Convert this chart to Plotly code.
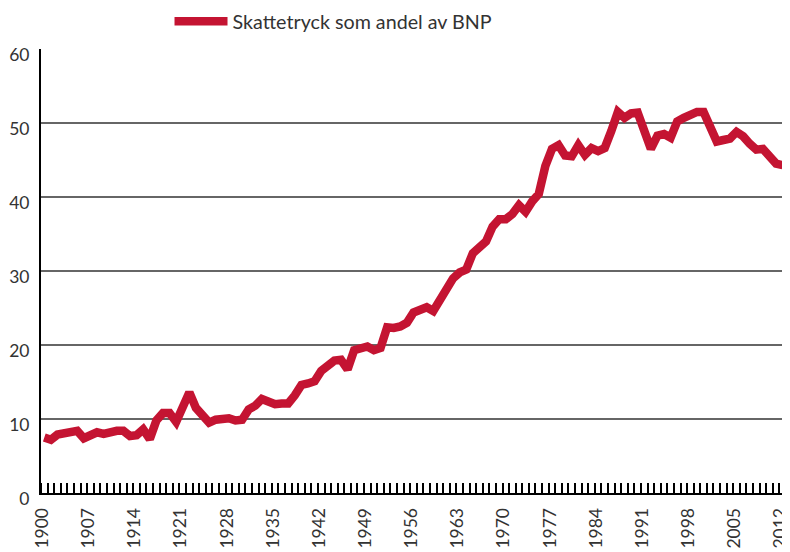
import plotly.graph_objects as go

years = list(range(1900, 2013))
tax_share = [
    7.5, 7.2, 7.9, 8.0, 8.2, 8.4, 7.4, 7.7, 8.2, 8.0,          # 1900-1909
    8.3, 8.4, 8.4, 7.7, 7.8, 8.6, 7.3, 9.8, 10.8, 10.8,        # 1910-1919
    9.6, 12.0, 13.6, 11.5, 10.6, 9.5, 9.9, 9.9, 10.1, 9.8,     # 1920-1929
    9.9, 11.3, 11.8, 12.7, 12.3, 12.0, 12.1, 12.1, 13.2, 14.6, # 1930-1939
    14.8, 15.1, 16.5, 17.3, 17.9, 18.0, 16.7, 19.3, 19.5, 19.8,# 1940-1949
    19.3, 19.6, 22.4, 22.3, 22.5, 23.0, 24.4, 24.8, 25.1, 24.6,# 1950-1959
    26.2, 27.7, 29.0, 29.8, 30.2, 32.4, 33.1, 34.0, 36.0, 37.0,# 1960-1969
    37.0, 37.7, 38.9, 38.0, 39.4, 40.4, 44.2, 46.5, 47.0, 45.6,# 1970-1979
    45.5, 47.0, 45.7, 46.6, 46.2, 46.6, 48.9, 51.5, 50.7, 51.3,# 1980-1989
    51.4, 49.3, 46.5, 48.3, 48.5, 48.0, 50.2, 50.7, 51.1, 51.5,# 1990-1999
    51.5, 49.3, 47.5, 47.7, 47.9, 48.8, 48.2, 47.2, 46.4, 46.5,# 2000-2009
    45.4, 44.5, 44.3,                                          # 2010-2012
]
x_tick_years = list(range(1900, 2013, 7))
y_ticks = [0, 10, 20, 30, 40, 50, 60]
series_name = "Skattetryck som andel av BNP"

RED = "#C41432"
FONT = "Lato"
TXT = "#333333"

fig = go.Figure()
fig.add_trace(go.Scatter(
    x=years, y=tax_share, mode="lines", name=series_name,
    line=dict(color=RED, width=8.5), cliponaxis=False, showlegend=True,
))

# the page body has an 8px margin, so the figure is 8px smaller than the window
fig.update_layout(
    width=782, height=544,
    margin=dict(l=33, r=4, t=41, b=59, autoexpand=False),
    paper_bgcolor="white", plot_bgcolor="white",
    font=dict(family=FONT, color=TXT, size=19),
    showlegend=True,
    legend=dict(orientation="h", x=0.1725, y=1.062, xanchor="left", yanchor="middle",
                yref="paper", font=dict(size=19.7, color=TXT),
                itemwidth=53, bgcolor="rgba(0,0,0,0)"),
    xaxis=dict(
        range=[1899.5, 2012.5], tickmode="array", tickvals=x_tick_years,
        ticktext=[str(v) for v in x_tick_years], tickangle=-90,
        ticks="", showline=True, linecolor="black", linewidth=2,
        showgrid=False, zeroline=False, automargin=False,
        ticklabelstandoff=6, ticklabelshift=-2, ticklabeloverflow="allow",
        minor=dict(dtick=1, tick0=1899.5, ticks="inside", ticklen=10,
                   tickwidth=1.5, tickcolor="black", showgrid=False),
        tickfont=dict(size=17.5, color=TXT),
    ),
    yaxis=dict(
        range=[0, 60], tickvals=y_ticks, ticks="", showline=True,
        linecolor="black", linewidth=2, showgrid=True, gridcolor="#666666",
        gridwidth=1.5, zeroline=False, ticklabelstandoff=6, ticklabelshift=6,
        automargin=False, ticklabeloverflow="allow",
        tickfont=dict(size=17.5, color=TXT),
    ),
)

fig.write_html("out.html")
